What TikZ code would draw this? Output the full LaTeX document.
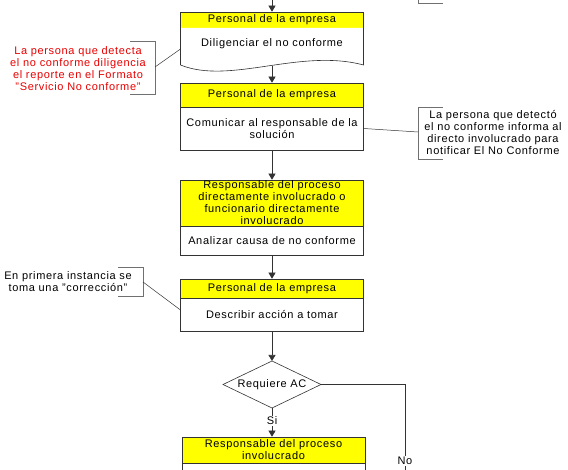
\documentclass[tikz,border=0pt]{standalone}
\usepackage{fontspec}
\setmainfont{Liberation Sans}[LetterSpace=6]
\usetikzlibrary{shapes.geometric,arrows.meta}
\definecolor{ln}{HTML}{333333}
\definecolor{br}{HTML}{707070}
\definecolor{ylw}{HTML}{FFFF00}
\definecolor{redtxt}{HTML}{E80000}
\begin{document}
\begin{tikzpicture}[x=1pt,y=-1pt,font=\fontsize{11}{12}\selectfont,
  hdr/.style={draw=ln,fill=ylw,minimum width=183pt,inner sep=0pt,align=center,line width=0.6pt},
  bdy/.style={draw=ln,fill=white,minimum width=183pt,inner sep=0pt,align=center,line width=0.6pt},
  arr/.style={draw=ln,line width=0.6pt,-{Triangle[width=7pt,length=6pt]}},
  lnk/.style={draw=ln,line width=0.5pt},
  brk/.style={draw=br,line width=0.8pt},
  lbl/.style={fill=white,inner sep=1pt},
  note/.style={align=center,inner sep=0pt}]
\useasboundingbox (0,0) rectangle (568,470);
% top
\coordinate (top) at (272,0);
\draw[brk] (418,0) -- (418,3) -- (443,3);
% box 1
\node[hdr,minimum height=16pt] (h1) at (272,20) {Personal de la empresa};
\draw[ln,fill=white,line width=0.6pt] (180.5,28) -- (180.5,65) .. controls (230,85) and (300,48) .. (363.5,65) -- (363.5,28);
\node[note] (b1) at (272,44) {Diligenciar el no conforme};
\coordinate (d1) at (272,66);
\draw[arr] (top) -- (h1.north);
% box 2
\node[hdr,minimum height=24pt] (h2) at (272,95) {Personal de la empresa};
\node[bdy,minimum height=43pt] (b2) at (272,128.5) {Comunicar al responsable de la\\solución};
\draw[arr] (d1) -- (h2.north);
% box 3
\node[hdr,minimum height=46pt] (h3) at (272,203) {Responsable del proceso\\directamente involucrado o\\funcionario directamente\\involucrado};
\node[bdy,minimum height=29pt] (b3) at (272,240.5) {Analizar causa de no conforme};
\draw[arr] (b2.south) -- (h3.north);
% box 4
\node[hdr,minimum height=19pt] (h4) at (272,288.5) {Personal de la empresa};
\node[bdy,minimum height=33pt] (b4) at (272,314.5) {Describir acción a tomar};
\draw[arr] (b3.south) -- (h4.north);
% decision
\coordinate (dN) at (272,361);
\coordinate (dS) at (272,408);
\coordinate (dW) at (223,384.5);
\coordinate (dE) at (321,384.5);
\draw[ln,fill=white,line width=0.6pt] (dN) -- (dE) -- (dS) -- (dW) -- cycle;
\node[note] (d) at (272,384.5) {Requiere AC};
\draw[arr] (b4.south) -- (dN);
% box 5
\node[hdr,minimum height=26pt] (h5) at (273.5,450) {Responsable del proceso\\involucrado};
\node[bdy,minimum height=20pt,anchor=north] (b5) at (h5.south) {};
\draw[arr] (dS) -- node[lbl,pos=0.45] (si) {Si} (dS |- h5.north);
% no branch
\coordinate (noend) at (405,478);
\draw[lnk] (dE) -| (noend);
\node[lbl] (no) at (405,461) {No};
% annotation 1
\node[note,text=redtxt] (a1) at (78,69) {La persona que detecta\\el no conforme diligencia\\el reporte en el Formato\\"Servicio No conforme"};
\draw[brk] (130,41) -- (155,41) -- (155,94) -- (130,94);
\coordinate (c1) at (155,67);
\coordinate (b1w) at (180.5,49);
\draw[lnk] (c1) -- (b1w);
% annotation 2
\node[note] (a2) at (493,133) {La persona que detectó\\el no conforme informa al\\directo involucrado para\\notificar El No Conforme};
\draw[brk] (443,107) -- (418,107) -- (418,159) -- (443,159);
\coordinate (c2) at (418,132);
\draw[lnk] (b2.east) -- (c2);
% annotation 3
\node[note] (a3) at (68,282) {En primera instancia se\\toma una "corrección"};
\draw[brk] (118,267) -- (143,267) -- (143,296) -- (118,296);
\coordinate (c3) at (143,282);
\coordinate (b4w) at (180.5,310);
\draw[lnk] (c3) -- (b4w);
\end{tikzpicture}
\end{document}
